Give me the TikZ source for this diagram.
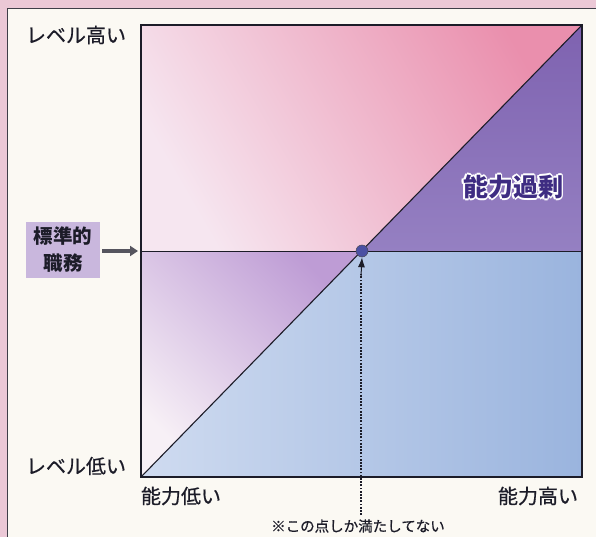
\documentclass[tikz,border=0pt]{standalone}
\usepackage{fontspec}
\setmainfont{Noto Sans CJK JP}
\newfontfamily\jpmed{Noto Sans CJK JP}[FakeBold=0.6]
\usetikzlibrary{arrows.meta}
\definecolor{pagepink}{HTML}{EBC8D6}
\definecolor{paper}{HTML}{FBF9F3}
\definecolor{pinkL}{HTML}{F6E6F0}
\definecolor{pinkD}{HTML}{EA8FAD}
\definecolor{lavL}{HTML}{F7F0F6}
\definecolor{lavD}{HTML}{BE9CD5}
\definecolor{purpT}{HTML}{7E62B0}
\definecolor{purpB}{HTML}{9580C2}
\definecolor{blueL}{HTML}{CFDBF0}
\definecolor{blueD}{HTML}{9AB4DE}
\definecolor{boxpurp}{HTML}{C9B7DD}
\definecolor{txtpurp}{HTML}{3E2C82}
\definecolor{dotblue}{HTML}{4B50A3}
\definecolor{ink}{HTML}{1C1C28}
\tikzset{
  axlabel/.style={font=\jpmed\fontsize{20}{22}\selectfont, text=ink, inner sep=0pt},
  notelabel/.style={font=\jpmed\fontsize{14.5}{16}\selectfont, text=ink, inner sep=0pt},
  outl/.style={font=\bfseries\fontsize{25}{27}\selectfont, inner sep=0pt, text=white},
}
\begin{document}
\begin{tikzpicture}[x=1pt,y=-1pt]
\useasboundingbox (0,0) rectangle (596,537);
% page background and frame
\fill[pagepink] (0,0) rectangle (596,537);
\fill[paper] (7.5,8.5) rectangle (596,537);
\draw[ink!85, line width=1.5pt] (7.5,537) -- (7.5,8.5) -- (596,8.5);
% coordinates
\coordinate (TL) at (141,25);
\coordinate (TR) at (582,25);
\coordinate (BL) at (141,477);
\coordinate (BR) at (582,477);
\coordinate (ML) at (141,251);
\coordinate (MR) at (582,251);
\coordinate (C) at (362,251);
% regions
\shade[bottom color=pinkL, top color=pinkD, shading angle=-60] (ML) -- (TL) -- (TR) -- (C) -- cycle;
\shade[top color=purpT, bottom color=purpB] (TR) -- (MR) -- (C) -- cycle;
\shade[left color=blueL, right color=blueD] (C) -- (MR) -- (BR) -- (BL) -- cycle;
\shade[bottom color=lavL, top color=lavD, shading angle=-45] (ML) -- (C) -- (BL) -- cycle;
% lines
\draw[ink, line width=1pt] (ML) -- (MR);
\draw[ink, line width=1.1pt] (BL) -- (TR);
\draw[ink, line width=1.6pt] (TL) rectangle (BR);
% dot
\node[circle, fill=dotblue, draw=ink!80, line width=0.5pt, minimum size=12pt, inner sep=0pt] (dot) at (C) {};
% labels
\node[axlabel] (hi) at (76,35) {レベル高い};
\node[axlabel] (lo) at (76,466) {レベル低い};
\node[axlabel] (alo) at (181,496) {能力低い};
\node[axlabel] (ahi) at (538,496) {能力高い};
\node[notelabel] (note) at (358,526) {※この点しか満たしてない};
% standard job box
\node[fill=boxpurp, minimum width=74pt, minimum height=56pt, inner sep=0pt, align=center,
      font=\bfseries\fontsize{19.5}{27}\selectfont, text=ink] (std) at (63,250) {標準的\\職務};
\coordinate (stdin) at (138,251);
\draw[-{Triangle[length=8pt,width=10pt]}, line width=3.4pt, ink!75] (std.east) ++(2,1) coordinate (stdout) -- (stdin);
% dotted arrow
\coordinate (dotstart) at (361,515);
\draw[ink, line width=2.2pt, dash pattern=on 1.8pt off 1.4pt] (dotstart) -- (361,274);
\draw[ink, -{Latex[length=10pt,width=7pt]}, line width=1pt] (361,276) -- (dot.south);
% outlined label
\foreach \dx/\dy in {-1.6/0,1.6/0,0/-1.6,0/1.6,-1.2/-1.2,1.2/-1.2,-1.2/1.2,1.2/1.2}
  \node[outl] at ([shift={(\dx,\dy)}]513,187) {能力過剰};
\node[outl, text=txtpurp] (over) at (513,187) {能力過剰};
\end{tikzpicture}
\end{document}
